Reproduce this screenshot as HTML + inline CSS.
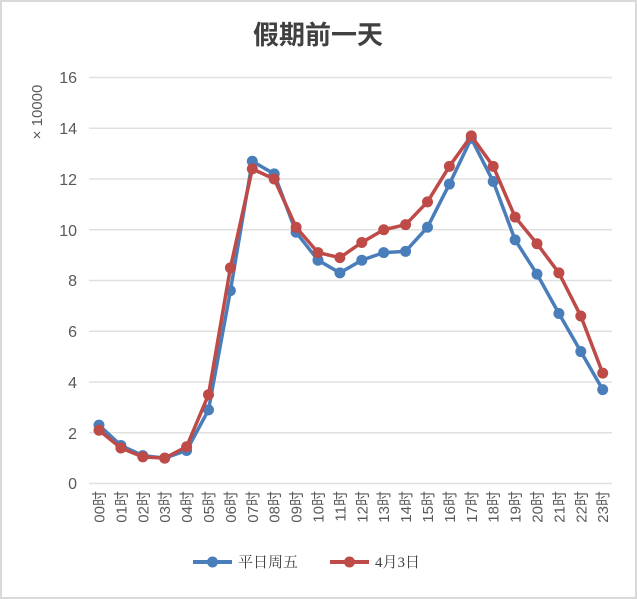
<!DOCTYPE html>
<html><head><meta charset="utf-8"><style>
html,body{margin:0;padding:0;background:#fff;}
svg{display:block;}
text{font-family:"Liberation Sans","Noto Sans CJK SC",sans-serif;fill:#595959;}
</style></head><body>
<svg width="637" height="599" viewBox="0 0 637 599" xmlns="http://www.w3.org/2000/svg">
<rect x="1" y="1" width="635" height="597" fill="#fff" stroke="#d9d9d9" stroke-width="2"/>
<text x="318" y="44" font-size="26" font-weight="bold" text-anchor="middle" style="fill:#404040">假期前一天</text>
<g stroke="#e0e0e0" stroke-width="1.5">
<line x1="89" x2="612" y1="77.5" y2="77.5"/>
<line x1="89" x2="612" y1="128.3" y2="128.3"/>
<line x1="89" x2="612" y1="179" y2="179"/>
<line x1="89" x2="612" y1="229.8" y2="229.8"/>
<line x1="89" x2="612" y1="280.5" y2="280.5"/>
<line x1="89" x2="612" y1="331.3" y2="331.3"/>
<line x1="89" x2="612" y1="382" y2="382"/>
<line x1="89" x2="612" y1="432.8" y2="432.8"/>
<line x1="89" x2="612" y1="483.5" y2="483.5"/>
</g>
<g font-size="16" text-anchor="end">
<text x="77" y="83">16</text><text x="77" y="134">14</text><text x="77" y="185">12</text>
<text x="77" y="236">10</text><text x="77" y="286">8</text><text x="77" y="337">6</text>
<text x="77" y="388">4</text><text x="77" y="439">2</text><text x="77" y="489">0</text>
</g>
<text transform="translate(42,112) rotate(-90)" font-size="15" text-anchor="middle">× 10000</text>
<g id="xl" font-size="15"></g>
<g id="series"></g>
<g font-size="15">
<line x1="193" x2="232" y1="562" y2="562" stroke="#4a7ebb" stroke-width="4"/>
<circle cx="212.5" cy="562" r="5.5" fill="#4a7ebb"/>
<text x="238" y="567" style="fill:#404040;font-family:'Liberation Serif','Noto Serif CJK SC',serif">平日周五</text>
<line x1="330" x2="369" y1="562" y2="562" stroke="#be4b48" stroke-width="4"/>
<circle cx="349.5" cy="562" r="5.5" fill="#be4b48"/>
<text x="375" y="567" style="fill:#404040;font-family:'Liberation Serif','Noto Serif CJK SC',serif">4月3日</text>
</g>
</svg>
<script>
var ns="http://www.w3.org/2000/svg";
var blue=[2.3,1.5,1.1,1.0,1.3,2.9,7.6,12.7,12.2,9.9,8.8,8.3,8.8,9.1,9.15,10.1,11.8,13.6,11.9,9.6,8.25,6.7,5.2,3.7];
var red=[2.1,1.4,1.05,1.0,1.45,3.5,8.5,12.4,12.0,10.1,9.1,8.9,9.5,10.0,10.2,11.1,12.5,13.7,12.5,10.5,9.45,8.3,6.6,4.35];
function X(i){return 99+i*21.9;}
function Y(v){return 483.5-v*25.375;}
var xl=document.getElementById("xl");
for(var i=0;i<24;i++){var t=document.createElementNS(ns,"text");var x=X(i)+5.5;
t.setAttribute("transform","translate("+x+",491) rotate(-90)");t.setAttribute("text-anchor","end");
t.textContent=(i<10?"0":"")+i+"时";xl.appendChild(t);}
var g=document.getElementById("series");
[[blue,"#4a7ebb"],[red,"#be4b48"]].forEach(function(s){
var p=document.createElementNS(ns,"polyline");var pts=s[0].map(function(v,i){return X(i)+","+Y(v)}).join(" ");
p.setAttribute("points",pts);p.setAttribute("fill","none");p.setAttribute("stroke",s[1]);p.setAttribute("stroke-width","3.5");p.setAttribute("stroke-linejoin","round");g.appendChild(p);
s[0].forEach(function(v,i){var c=document.createElementNS(ns,"circle");c.setAttribute("cx",X(i));c.setAttribute("cy",Y(v));c.setAttribute("r","5.5");c.setAttribute("fill",s[1]);g.appendChild(c);});
});
</script>
</body></html>
